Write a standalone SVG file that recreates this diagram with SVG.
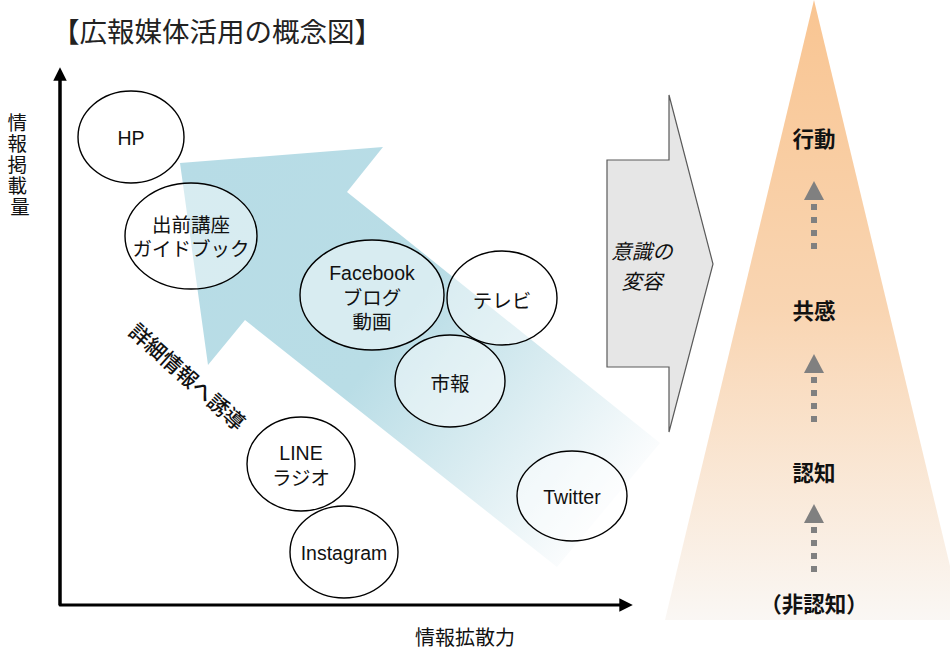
<svg xmlns="http://www.w3.org/2000/svg" width="950" height="648" viewBox="0 0 950 648">
  <defs>
    <linearGradient id="blueArrow" gradientUnits="userSpaceOnUse" x1="180" y1="163" x2="608" y2="505">
      <stop offset="0" stop-color="#b7dce6"/>
      <stop offset="0.5" stop-color="#b9dde6"/>
      <stop offset="0.75" stop-color="#d9ecf1"/>
      <stop offset="1" stop-color="#fafcfd"/>
    </linearGradient>
    <linearGradient id="orange" gradientUnits="userSpaceOnUse" x1="0" y1="0" x2="0" y2="620">
      <stop offset="0" stop-color="#f9c592"/>
      <stop offset="0.5" stop-color="#f9d5b2"/>
      <stop offset="1" stop-color="#faf7f4"/>
    </linearGradient>
    <marker id="axisHead" viewBox="0 0 10 10" refX="2" refY="5" markerWidth="4.5" markerHeight="4.5" orient="auto">
      <path d="M0,0 L10,5 L0,10 z" fill="#000"/>
    </marker>
  </defs>
  <style>
    .t { font-family: "Liberation Sans", "Noto Sans CJK JP", sans-serif; fill: #111; }
    .node ellipse { fill: #ffffff; fill-opacity: 0.45; stroke: #000; stroke-width: 1.4; }
    .node text { font-size: 19.5px; text-anchor: middle; dominant-baseline: central; }
    .stage { font-size: 21.5px; font-weight: bold; text-anchor: middle; dominant-baseline: central; }
    .dots { stroke: #808080; stroke-width: 6; stroke-dasharray: 6 7; fill: none; }
    .dhead { fill: #808080; }
  </style>

  <!-- title -->
  <text class="t" x="52" y="32" font-size="27.5" dominant-baseline="central" style="fill:#222">【広報媒体活用の概念図】</text>

  <!-- right pyramid -->
  <g id="pyramid">
    <polygon points="814,0 963,620 665,620" fill="url(#orange)"/>
  </g>

  <!-- big blue arrow -->
  <g id="guide-arrow">
    <polygon points="180,163 383,147 347,192 660,443 557,567 245,320 208,365" fill="url(#blueArrow)"/>
    <text class="t" transform="translate(187,377) rotate(42)" font-size="21" font-weight="500" text-anchor="middle" dominant-baseline="central">詳細情報へ誘導</text>
  </g>

  <!-- axes -->
  <g id="axes" fill="none" stroke="#000" stroke-width="3">
    <path d="M60,78 L60,605 L622,605" stroke-linejoin="round" marker-end="url(#axisHead)"/>
    <path d="M60,605 L60,78" marker-end="url(#axisHead)"/>
  </g>
  <text class="t" font-size="19.5" text-anchor="middle" dominant-baseline="central">
    <tspan x="20" y="123">情</tspan>
    <tspan x="20" y="144">報</tspan>
    <tspan x="20" y="165">掲</tspan>
    <tspan x="20" y="186">載</tspan>
    <tspan x="20" y="207">量</tspan>
  </text>
  <text class="t" x="465" y="638" font-size="20" text-anchor="middle" dominant-baseline="central">情報拡散力</text>

  <!-- media nodes -->
  <g id="node-hp" class="node t">
    <ellipse cx="131" cy="137" rx="53" ry="46"/>
    <text x="131" y="138">HP</text>
  </g>
  <g id="node-guide" class="node t">
    <ellipse cx="191" cy="236" rx="66" ry="53"/>
    <text x="191" y="225">出前講座</text>
    <text x="191" y="249">ガイドブック</text>
  </g>
  <g id="node-facebook" class="node t">
    <ellipse cx="372" cy="295" rx="72" ry="55"/>
    <text x="372" y="273">Facebook</text>
    <text x="372" y="298">ブログ</text>
    <text x="372" y="322">動画</text>
  </g>
  <g id="node-tv" class="node t">
    <ellipse cx="502" cy="298" rx="55" ry="47"/>
    <text x="502" y="301">テレビ</text>
  </g>
  <g id="node-shiho" class="node t">
    <ellipse cx="450" cy="381" rx="55" ry="46"/>
    <text x="450" y="384">市報</text>
  </g>
  <g id="node-line" class="node t">
    <ellipse cx="301" cy="464" rx="54" ry="47"/>
    <text x="301" y="453">LINE</text>
    <text x="301" y="478">ラジオ</text>
  </g>
  <g id="node-instagram" class="node t">
    <ellipse cx="344" cy="552" rx="54" ry="46"/>
    <text x="344" y="553">Instagram</text>
  </g>
  <g id="node-twitter" class="node t">
    <ellipse cx="572" cy="496" rx="55" ry="45"/>
    <text x="572" y="497">Twitter</text>
  </g>

  <!-- gray transformation arrow -->
  <g id="change-arrow">
    <polygon points="607,160 669,160 669,95 713,264 669,432 669,367 607,367" fill="#e6e6e6" stroke="#5a5a5a" stroke-width="1.2"/>
    <text class="t" x="642" y="251" font-size="20.5" font-style="italic" text-anchor="middle" dominant-baseline="central">意識の</text>
    <text class="t" x="642" y="281" font-size="20.5" font-style="italic" text-anchor="middle" dominant-baseline="central">変容</text>
  </g>

  <!-- stages -->
  <g id="stage-action"><text class="t stage" x="814" y="140">行動</text></g>
  <g id="stage-empathy"><text class="t stage" x="814" y="312">共感</text></g>
  <g id="stage-aware"><text class="t stage" x="814" y="474">認知</text></g>
  <g id="stage-unaware"><text class="t stage" x="814" y="605">（非認知）</text></g>

  <!-- dotted stage connectors -->
  <g id="connectors">
    <polygon class="dhead" points="814,181 824,200 804,200"/>
    <line class="dots" x1="814" y1="204" x2="814" y2="253"/>
    <polygon class="dhead" points="814,354 824,373 804,373"/>
    <line class="dots" x1="814" y1="377" x2="814" y2="426"/>
    <polygon class="dhead" points="814,504 824,523 804,523"/>
    <line class="dots" x1="814" y1="527" x2="814" y2="576"/>
  </g>
</svg>
